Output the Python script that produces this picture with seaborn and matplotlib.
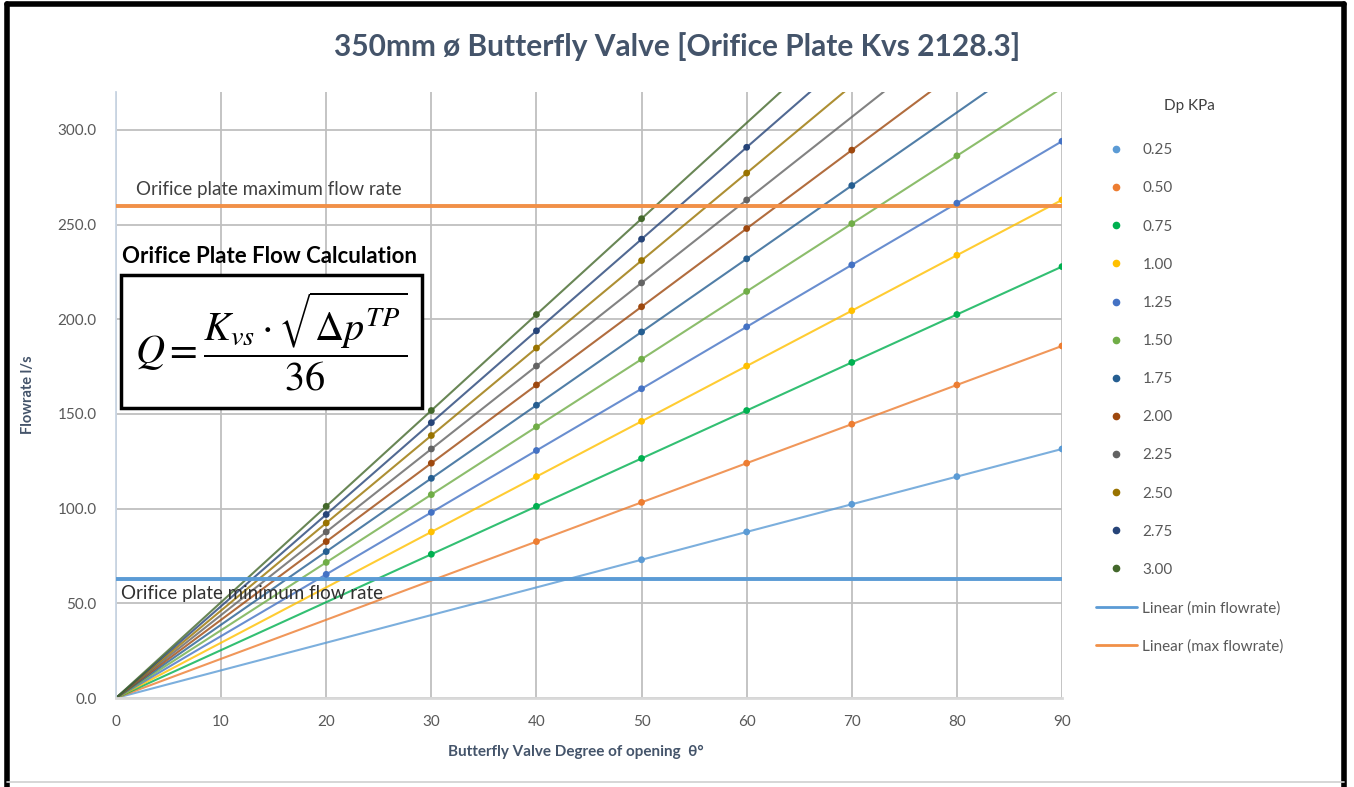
import numpy as np
import pandas as pd
import matplotlib
matplotlib.use("Agg")
import matplotlib.pyplot as plt
import seaborn as sns
from matplotlib.lines import Line2D
from matplotlib.patches import Rectangle

# valve opening (deg) and flow (l/s) per differential pressure
DEG = [0, 10, 20, 30, 40, 50, 60, 70, 80, 90]
DP_LABELS = ["0.25", "0.50", "0.75", "1.00", "1.25", "1.50",
             "1.75", "2.00", "2.25", "2.50", "2.75", "3.00"]
FLOW_025 = [0, 14.6, 29.2, 43.8, 58.4, 73.0, 87.7, 102.3, 116.9, 131.5]
FLOW_050 = [0, 20.7, 41.3, 62.0, 82.6, 103.3, 124.0, 144.6, 165.3, 185.9]
FLOW_075 = [0, 25.3, 50.6, 75.9, 101.2, 126.5, 151.8, 177.2, 202.5, 227.8]
FLOW_100 = [0, 29.2, 58.4, 87.7, 116.9, 146.1, 175.3, 204.5, 233.8, 263.0]
FLOW_125 = [0, 32.7, 65.3, 98.0, 130.7, 163.3, 196.0, 228.7, 261.3, 294.0]
FLOW_150 = [0, 35.8, 71.6, 107.4, 143.2, 178.9, 214.7, 250.5, 286.3, 322.1]
FLOW_175 = [0, 38.7, 77.3, 116.0, 154.6, 193.3, 231.9, 270.6, 309.2, 347.9]
FLOW_200 = [0, 41.3, 82.6, 124.0, 165.3, 206.6, 247.9, 289.3, 330.6, 371.9]
FLOW_225 = [0, 43.8, 87.7, 131.5, 175.3, 219.2, 263.0, 306.8, 350.6, 394.5]
FLOW_250 = [0, 46.2, 92.4, 138.6, 184.8, 231.0, 277.2, 323.4, 369.6, 415.8]
FLOW_275 = [0, 48.5, 96.9, 145.4, 193.9, 242.3, 290.8, 339.2, 387.7, 436.1]
FLOW_300 = [0, 50.6, 101.2, 151.8, 202.5, 253.1, 303.7, 354.3, 404.9, 455.5]
ALL_FLOWS = [FLOW_025, FLOW_050, FLOW_075, FLOW_100, FLOW_125, FLOW_150,
             FLOW_175, FLOW_200, FLOW_225, FLOW_250, FLOW_275, FLOW_300]

MIN_FLOW = 62.8   # orifice plate minimum flow rate
MAX_FLOW = 260.0  # orifice plate maximum flow rate
POINT_CAP = 300.0  # no data points above this

COLORS = ["#5B9BD5", "#ED7D31", "#00B050", "#FFC000", "#4472C4", "#70AD47",
          "#255E91", "#9E480E", "#636363", "#997300", "#264478", "#43682B"]

rows = []
for lab, vals in zip(DP_LABELS, ALL_FLOWS):
    for d, q in zip(DEG, vals):
        rows.append({"dp": lab, "deg": d, "flow": q})
df = pd.DataFrame(rows)
pts = df[(df["flow"] >= MIN_FLOW) & (df["flow"] <= POINT_CAP)]
pal = dict(zip(DP_LABELS, COLORS))

sns.set_theme(style="white")
plt.rcParams["font.family"] = ["Lato", "DejaVu Sans"]
plt.rcParams["mathtext.fontset"] = "stix"

text_col = "#44546A"
tick_col = "#595959"

fig = plt.figure(figsize=(13.54, 7.87), dpi=100)
ax = fig.add_axes([116 / 1354, 89 / 787, 946 / 1354, 606 / 787])

sns.lineplot(data=df, x="deg", y="flow", hue="dp", palette=pal, estimator=None,
             sort=False, linewidth=1.5, alpha=0.8, legend=False, ax=ax)
sns.scatterplot(data=pts, x="deg", y="flow", hue="dp", palette=pal, s=24,
                edgecolor="none", legend=False, ax=ax, zorder=4)

ax.axhline(MIN_FLOW, color="#5B9BD5", lw=2.8, zorder=3)
ax.axhline(MAX_FLOW, color="#F19048", lw=2.8, zorder=3)

ax.set_xlim(0, 90)
ax.set_ylim(0, 320)
ax.set_xticks(range(0, 91, 10))
ax.set_yticks(range(0, 301, 50))
ax.set_yticklabels([f"{v:.1f}" for v in range(0, 301, 50)])
ax.tick_params(axis="y", length=0, labelsize=11, colors=tick_col, pad=14)
ax.tick_params(axis="x", length=0, labelsize=11, colors=tick_col, pad=12)
ax.grid(True, color="#BFBFBF", lw=1.3)
ax.set_axisbelow(True)
for s in ["top", "right"]:
    ax.spines[s].set_visible(False)
ax.spines["left"].set_color("#C9D5E3")
ax.spines["left"].set_linewidth(1.3)
ax.spines["bottom"].set_color("#D9D9D9")
ax.spines["bottom"].set_linewidth(2)

ax.set_xlabel("Butterfly Valve Degree of opening  θ°", fontsize=11, fontweight="bold",
              color=text_col, labelpad=12)
ax.xaxis.label.set_x(0.486)
ax.set_ylabel("Flowrate l/s", fontsize=10.5, fontweight="bold", color=text_col, labelpad=16)

fig.text(0.5 * (333 + 1022) / 1354, 1 - 47 / 787,
         "350mm ø Butterfly Valve [Orifice Plate Kvs 2128.3]",
         ha="center", va="center", fontsize=21.5, fontweight="bold", color=text_col)

ax.text(1.9, MAX_FLOW + 4, "Orifice plate maximum flow rate", fontsize=13.5,
        color="#404040", va="bottom")
ax.text(0.5, MIN_FLOW - 3, "Orifice plate minimum flow rate", fontsize=13.5,
        color="#303030", va="top", zorder=5)

ax.text(0.0063, 0.728, "Orifice Plate Flow Calculation", transform=ax.transAxes,
        fontsize=16, fontweight="bold", color="black", va="center")
ax.add_patch(Rectangle((0.0053, 0.4785), 0.318, 0.2195, transform=ax.transAxes,
                       facecolor="white", edgecolor="black", lw=2.5, zorder=6))
ax.text(0.164, 0.589, r"$Q=\dfrac{K_{vs}\cdot\sqrt{\Delta p^{TP}}}{36}$",
        transform=ax.transAxes, ha="center", va="center", fontsize=29,
        color="black", zorder=7)

handles = [Line2D([], [], marker="o", ls="", color=c, markersize=4.5) for c in COLORS]
handles += [Line2D([], [], color="#5B9BD5", lw=2),
            Line2D([], [], color="#F19048", lw=2)]
labels = DP_LABELS + ["Linear (min flowrate)", "Linear (max flowrate)"]
leg = fig.legend(handles, labels, loc="upper left", bbox_to_anchor=(1082 / 1354, 1 - 85 / 787),
                 frameon=False, fontsize=11, title="Dp KPa", title_fontsize=11,
                 handlelength=2.7, handletextpad=0.35, labelspacing=1.58)
for t in leg.get_texts():
    t.set_color(tick_col)
leg.get_title().set_color("#404040")
leg._legend_box.sep = 22

# screenshot frame
fig.add_artist(Line2D([0.0052, 0.0052], [0, 0.995], transform=fig.transFigure, color="black", lw=4))
fig.add_artist(Line2D([0.0052, 0.9928], [0.995, 0.995], transform=fig.transFigure, color="black", lw=4))
fig.add_artist(Line2D([0.9928, 0.9928], [0, 0.995], transform=fig.transFigure, color="black", lw=4))
fig.add_artist(Line2D([0.0052, 0.9928], [0.006, 0.006], transform=fig.transFigure, color="#D0D0D0", lw=1.2))

fig.savefig("out.png", dpi=100)
plt.close(fig)
